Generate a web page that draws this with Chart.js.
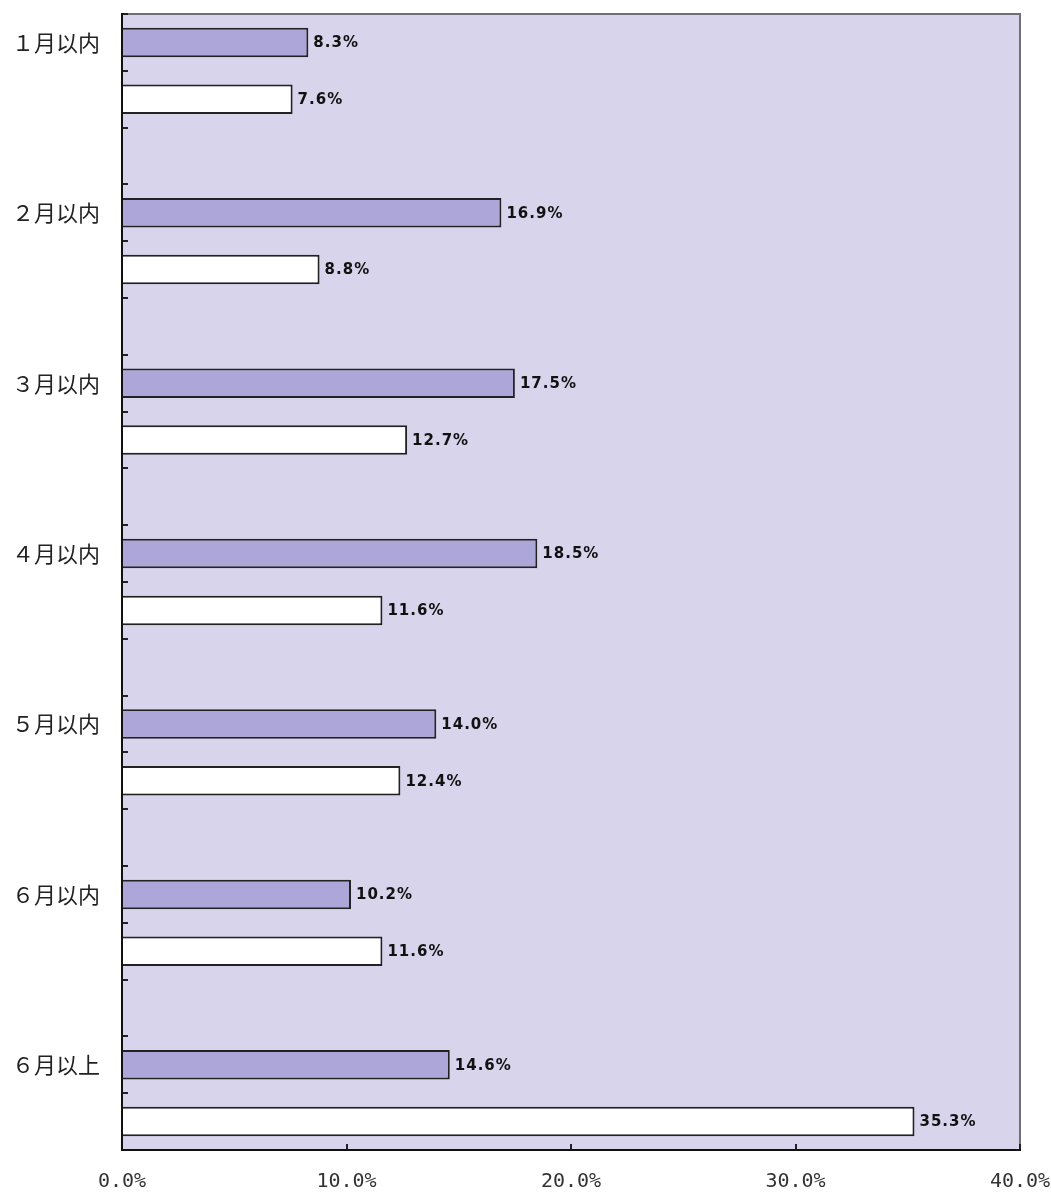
<!DOCTYPE html>
<html>
<head>
<meta charset="utf-8">
<title>期间分布</title>
<script src="https://cdn.jsdelivr.net/npm/chart.js@4/dist/chart.umd.min.js"></script>
<style>
  body { margin: 0; background: #fff; }
  canvas { display: block; }
</style>
</head>
<body>
<canvas id="myChart" width="1051" height="1194"></canvas>
<script>
const categories = ['１月以内', '２月以内', '３月以内', '４月以内', '５月以内', '６月以内', '６月以上'];
const purpleValues = [8.3, 16.9, 17.5, 18.5, 14.0, 10.2, 14.6];
const whiteValues = [7.6, 8.8, 12.7, 11.6, 12.4, 11.6, 35.3];
const xTicks = [0, 10, 20, 30, 40];

// each category gets three rows: purple bar, white bar, empty gap (last gap dropped)
const rowLabels = [];
const purpleRows = [];
const whiteRows = [];
categories.forEach((c, i) => {
    rowLabels.push(c, '');
    purpleRows.push(purpleValues[i], null);
    whiteRows.push(null, whiteValues[i]);
    if (i < categories.length - 1) {
        rowLabels.push('');
        purpleRows.push(null);
        whiteRows.push(null);
    }
});

const plotBackground = {
    id: 'plotBackground',
    beforeDraw(chart) {
        const { ctx, chartArea: a } = chart;
        ctx.save();
        ctx.fillStyle = '#d8d4ec';
        ctx.fillRect(a.left, a.top, a.right - a.left, a.bottom - a.top);
        ctx.strokeStyle = '#6f6f78';
        ctx.lineWidth = 2;
        ctx.beginPath();
        ctx.moveTo(a.left, a.top);
        ctx.lineTo(a.right, a.top);
        ctx.lineTo(a.right, a.bottom);
        ctx.stroke();
        ctx.restore();
    }
};

const valueLabels = {
    id: 'valueLabels',
    afterDatasetsDraw(chart) {
        const ctx = chart.ctx;
        ctx.save();
        ctx.font = 'bold 15px "DejaVu Sans"';
        ctx.letterSpacing = '1px';
        ctx.fillStyle = '#111';
        ctx.textAlign = 'left';
        ctx.textBaseline = 'middle';
        chart.data.datasets.forEach((ds, di) => {
            const meta = chart.getDatasetMeta(di);
            meta.data.forEach((bar, i) => {
                const v = ds.data[i];
                if (v === null) return;
                ctx.fillText(v.toFixed(1) + '%', bar.x + 5, bar.y + 1);
            });
        });
        ctx.restore();
    }
};

// drop the label-overflow padding so the plot box is set by layout.padding alone
function noOverflow(scale) {
    scale.paddingTop = 0;
    scale.paddingBottom = 0;
    scale.paddingLeft = 0;
    scale.paddingRight = 0;
}

window.myChart = new Chart(document.getElementById('myChart').getContext('2d'), {
    type: 'bar',
    data: {
        labels: rowLabels,
        datasets: [{
            data: purpleRows,
            backgroundColor: '#aca6d9',
            borderColor: '#222',
            borderWidth: 2,
            grouped: false,
            categoryPercentage: 1,
            barPercentage: 0.52
        }, {
            data: whiteRows,
            backgroundColor: '#ffffff',
            borderColor: '#222',
            borderWidth: 2,
            grouped: false,
            categoryPercentage: 1,
            barPercentage: 0.52
        }]
    },
    options: {
        indexAxis: 'y',
        responsive: false,
        animation: false,
        layout: { padding: { top: 14, right: 31, left: 0, bottom: 0 } },
        plugins: {
            legend: { display: false },
            tooltip: { enabled: false }
        },
        scales: {
            x: {
                min: 0,
                max: 40,
                afterBuildTicks: scale => { scale.ticks = xTicks.map(v => ({ value: v })); },
                afterFit: scale => { scale.height = 44; noOverflow(scale); },
                grid: { drawOnChartArea: false, tickLength: -6, color: '#222', lineWidth: 2 },
                border: { color: '#111', width: 2 },
                ticks: {
                    padding: 26,
                    color: '#333',
                    font: { family: '"DejaVu Sans Mono"', size: 20 },
                    callback: v => v.toFixed(1) + '%'
                }
            },
            y: {
                afterFit: scale => { scale.width = 122; noOverflow(scale); },
                grid: { drawOnChartArea: false, offset: true, tickLength: -6, color: '#222', lineWidth: 2 },
                border: { color: '#111', width: 2 },
                ticks: {
                    padding: 28,
                    color: '#222',
                    autoSkip: false,
                    font: { family: '"Noto Sans CJK SC"', size: 22 }
                }
            }
        }
    },
    plugins: [plotBackground, valueLabels]
});
</script>
</body>
</html>
